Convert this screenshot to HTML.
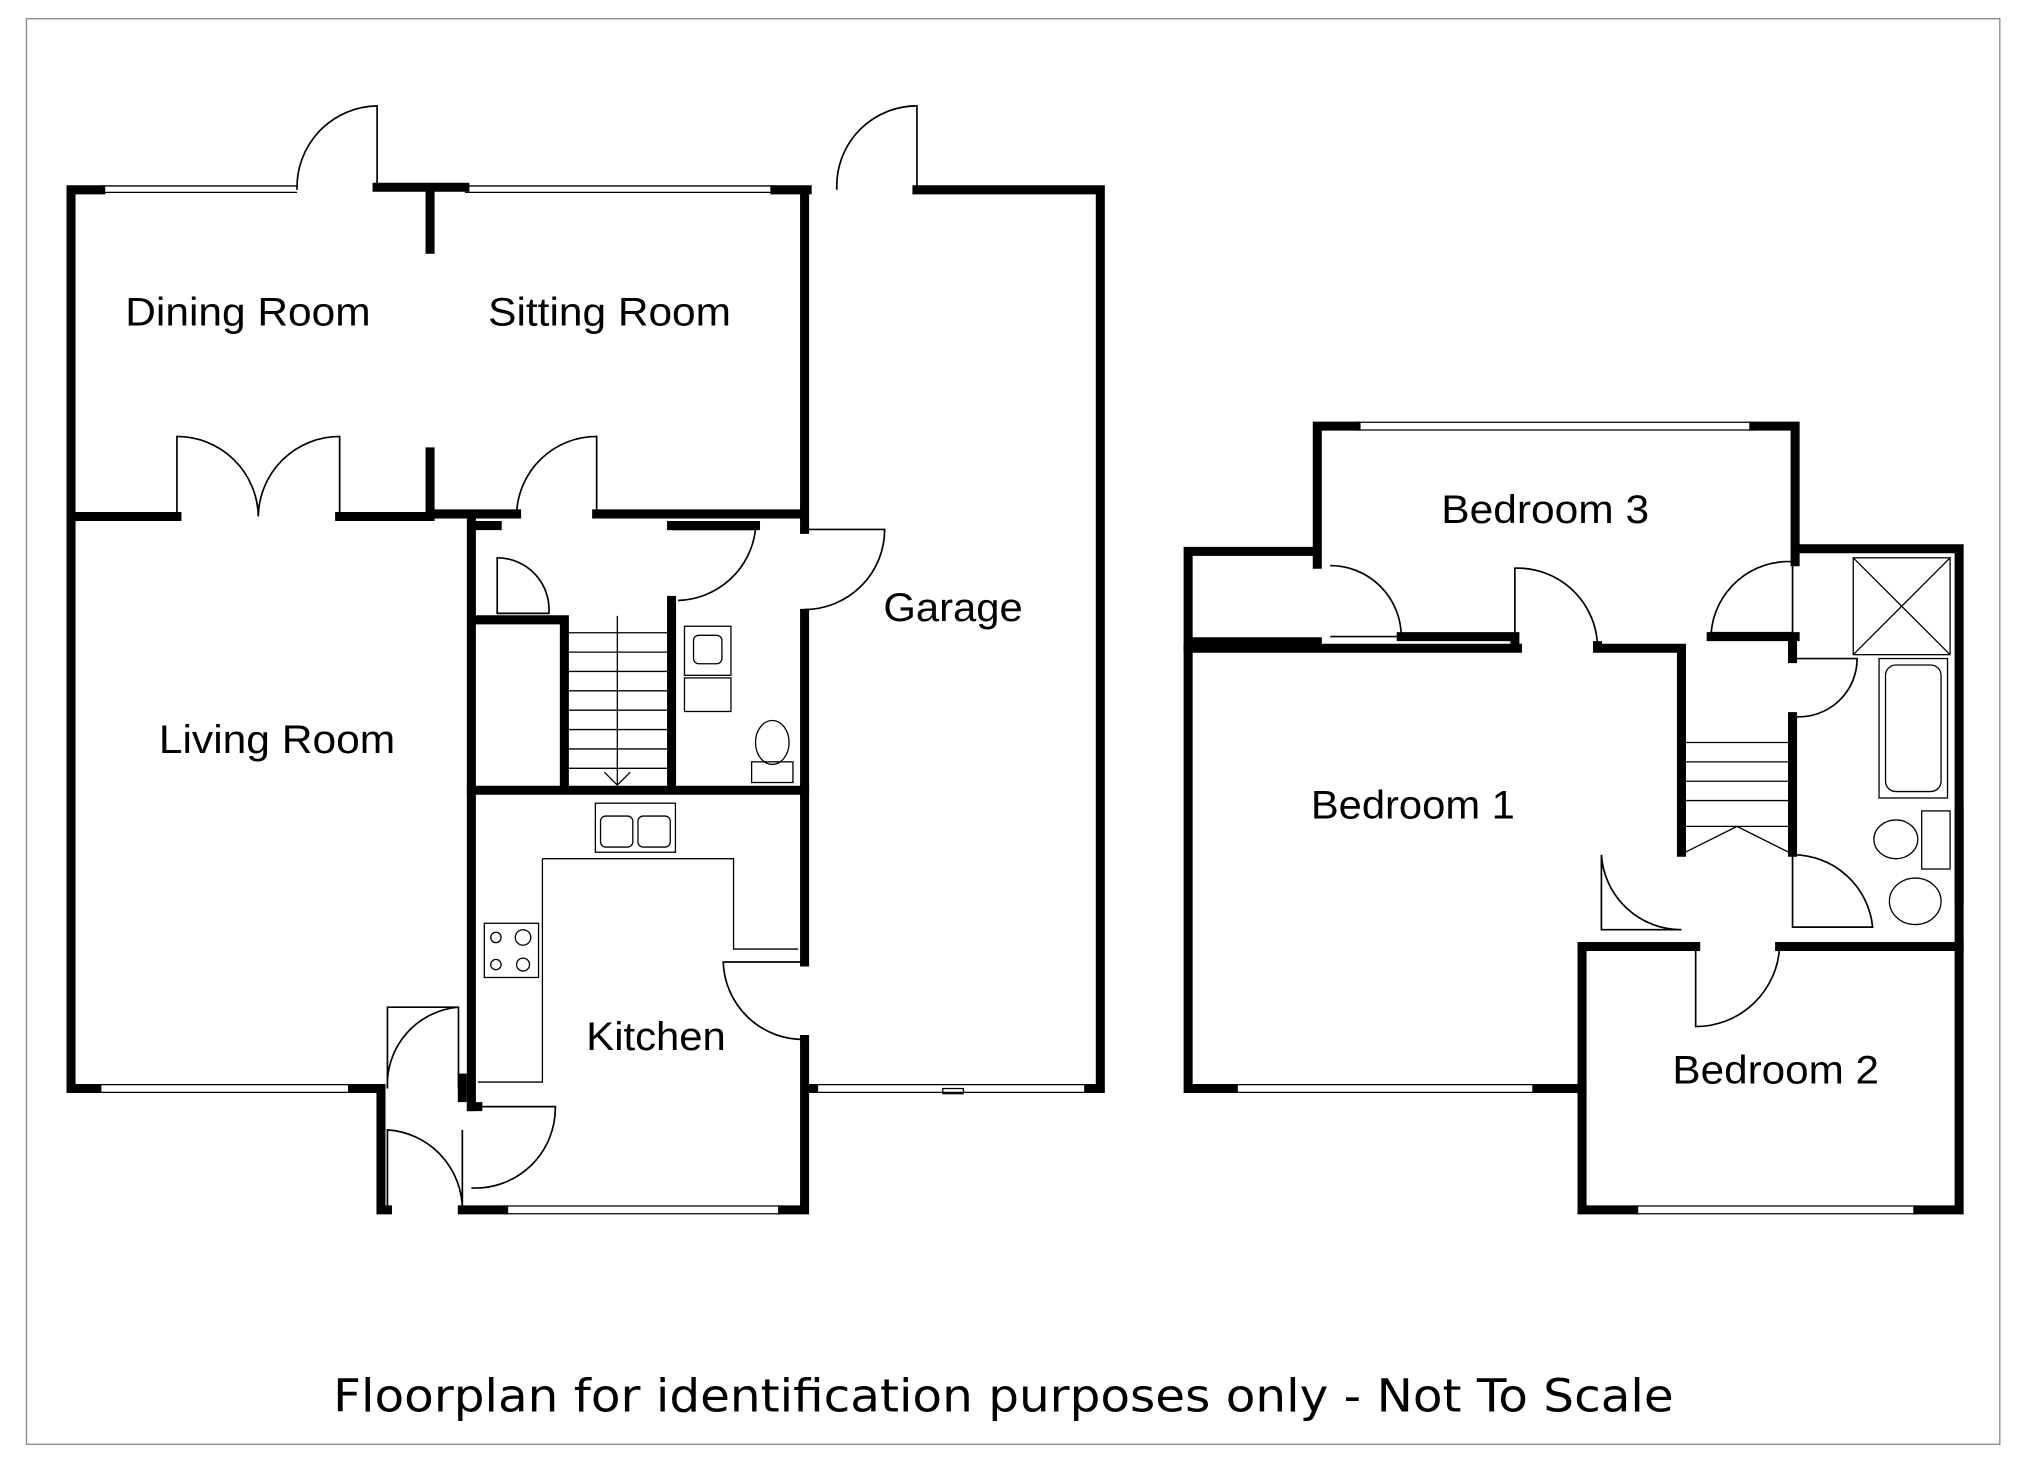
<!DOCTYPE html>
<html><head><meta charset="utf-8"><style>
html,body{margin:0;padding:0;background:#fff;}
svg{display:block;}
</style></head><body>
<svg width="2025" height="1463" viewBox="0 0 1568 1133" preserveAspectRatio="none" xmlns="http://www.w3.org/2000/svg">
<rect x="0" y="0" width="1568" height="1133" fill="#fff"/>
<rect x="20.5" y="14.5" width="1528" height="1104" fill="none" stroke="#888" stroke-width="1"/>
<g stroke="#000" stroke-width="7" stroke-linecap="square" fill="none">
<path d="M55 147 H78 M292 145 H360 M600 147 H625 M710 147 H852 M55 147 V843 M55 843 H75 M273 843 H295 V937 H300 M358 937 H390 M606 937 H623 V805 M623 745 V475 M623 410 V147 M852 147 V843 M623 843 H630 M843 843 H852"/>
<path d="M333 147 V193 M333 350 V398 M55 400 H137 M263 400 H333 M333 398 H400 M462 398 H620"/>
<path d="M365 405 V857 M365 407 H385 M520 407 H585"/>
<path d="M365 612 H623 M370 480 H437 V610 M520 465 V610"/>
<path d="M358 835 V850 M365 857 H370"/>
<path d="M1020 330 H1050 M1358 330 H1390 V435 M1020 330 V437 M920 427 H1020 M920 427 V843 M920 497 H1020 M920 843 H955 M1190 843 H1225 V937 H1265 M1485 937 H1517 V425 H1390"/>
<path d="M1225 733 V843"/>
<path d="M920 502 H1175 M1237 502 H1302 V660 M1325 493 H1390 M1085 493 H1173 V502 M1237 502 V500"/>
<path d="M1225 733 H1313 M1378 733 H1517 M1388 495 V510 M1388 555 V660"/>
</g>
<g stroke="#000" stroke-width="1" fill="none">
<path d="M78 144 H230 M78 149 H230 M360 144 H600 M360 149 H600 M75 840 H273 M75 846 H273 M390 934 H606 M390 940 H606 M630 840 H843 M630 846 H843 M1050 327 H1358 M1050 333 H1358 M955 840 H1190 M955 846 H1190 M1265 934 H1485 M1265 940 H1485 M1514 625 V700 M1520 625 V700"/>
<rect x="730" y="843" width="16" height="4"/>
</g>
<g stroke="#000" stroke-width="1.3" fill="none">
<path d="M292 147 V82 A63 63 0 0 0 230 147"/>
<path d="M710 147 V82 A62 62 0 0 0 648 147"/>
<path d="M137 400 V338 A63 63 0 0 1 200 400 M263 400 V338 A63 63 0 0 0 200 400"/>
<path d="M462 398 V338 A62 62 0 0 0 400 398"/>
<path d="M520 410 H585 A62 62 0 0 1 525 465"/>
<path d="M623 410 H685 A62 62 0 0 1 623 472"/>
<path d="M385 432 A40 40 0 0 1 425 475 H385 Z"/>
<path d="M623 745 H560 A62 62 0 0 0 623 805"/>
<path d="M300 843 V780 H355 V843 M300 843 A60 60 0 0 1 355 780"/>
<path d="M365 857 H430 A62 62 0 0 1 365 920 M300 937 V875 A62 62 0 0 1 358 937 M358 937 V875"/>
<path d="M1030 493 H1085 A55 55 0 0 0 1030 438"/>
<path d="M1173 502 V440 A62 62 0 0 1 1237 502"/>
<path d="M1325 490 H1388 V435 A60 60 0 0 0 1325 490"/>
<path d="M1390 510 H1438 A45 45 0 0 1 1390 555"/>
<path d="M1240 662 V720 H1302 A62 62 0 0 1 1240 662"/>
<path d="M1388 662 V718 H1450 A62 62 0 0 0 1388 662"/>
<path d="M1313 733 V795 A65 65 0 0 0 1378 733"/>
</g>
<g stroke="#000" stroke-width="1" fill="none">
<path d="M440 490 H518 M440 505 H518 M440 520 H518 M440 535 H518 M440 550 H518 M440 565 H518 M440 580 H518 M440 595 H518 M478 477 V608 M468 598 L478 608 L488 598"/>
<path d="M1305 575 H1385 M1305 590 H1385 M1305 605 H1385 M1305 620 H1385 M1305 640 H1385 M1305 660 L1345 640 L1385 660"/>
<rect x="530" y="485" width="36" height="38"/><rect x="537" y="492" width="22" height="22" rx="4"/>
<rect x="530" y="525" width="36" height="26"/>
<ellipse cx="598" cy="575" rx="13" ry="17"/><rect x="582" y="590" width="32" height="16"/>
<rect x="461" y="622" width="62" height="38"/><rect x="465" y="632" width="25" height="24" rx="4"/><rect x="494" y="632" width="25" height="24" rx="4"/>
<path d="M420 665 H568 V735 H618 M420 665 V838 H370"/>
<rect x="375" y="715" width="42" height="42"/>
<circle cx="384" cy="726" r="4"/><circle cx="405" cy="726" r="6"/><circle cx="384" cy="747" r="4"/><circle cx="405" cy="747" r="5"/>
<rect x="1435" y="432" width="75" height="75"/><path d="M1435 432 L1510 507 M1510 432 L1435 507"/>
<rect x="1455" y="510" width="53" height="108"/><rect x="1460" y="515" width="43" height="98" rx="8"/>
<rect x="1488" y="628" width="22" height="45"/><ellipse cx="1468" cy="650" rx="17" ry="15"/>
<ellipse cx="1483" cy="698" rx="20" ry="18"/>
</g>
<g font-family="'Liberation Sans', Arial, sans-serif" font-size="31" fill="#000">
<text x="97" y="252" textLength="190" lengthAdjust="spacingAndGlyphs">Dining Room</text>
<text x="378" y="252" textLength="188" lengthAdjust="spacingAndGlyphs">Sitting Room</text>
<text x="684" y="481" textLength="108" lengthAdjust="spacingAndGlyphs">Garage</text>
<text x="123" y="583" textLength="183" lengthAdjust="spacingAndGlyphs">Living Room</text>
<text x="454" y="813" textLength="108" lengthAdjust="spacingAndGlyphs">Kitchen</text>
<text x="1116" y="405" textLength="161" lengthAdjust="spacingAndGlyphs">Bedroom 3</text>
<text x="1015" y="634" textLength="158" lengthAdjust="spacingAndGlyphs">Bedroom 1</text>
<text x="1295" y="839" textLength="160" lengthAdjust="spacingAndGlyphs">Bedroom 2</text>
</g>
<text x="258" y="1093" font-family="'DejaVu Sans', Verdana, sans-serif" font-size="35" textLength="1038" lengthAdjust="spacingAndGlyphs" fill="#000">Floorplan for identification purposes only - Not To Scale</text>
</svg>
</body></html>
